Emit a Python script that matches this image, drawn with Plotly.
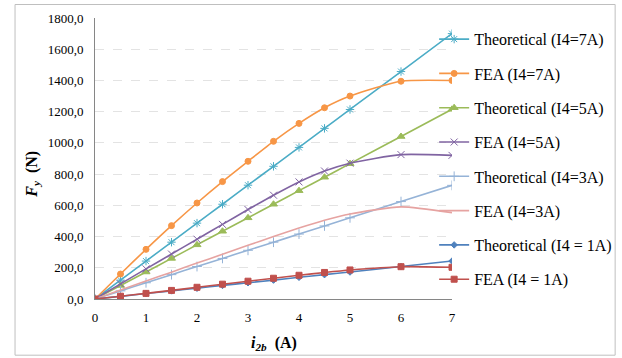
import plotly.graph_objects as go

x = [0, 0.5, 1, 1.5, 2, 2.5, 3, 3.5, 4, 4.5, 5, 6, 7]

theo_7 = [0, 121, 243, 364, 486, 607, 729, 850, 971, 1093, 1214, 1457, 1700]
fea_7 = [0, 160, 318, 470, 615, 752, 882, 1010, 1125, 1225, 1300, 1395, 1400]
theo_5 = [0, 87, 173, 260, 347, 434, 520, 607, 694, 780, 867, 1041, 1215]
fea_5 = [0, 97, 193, 288, 383, 478, 573, 665, 750, 820, 870, 925, 920]
theo_3 = [0, 52, 104, 156, 208, 260, 312, 364, 416, 468, 520, 624, 728]
fea_3 = [0, 58, 115, 172, 230, 287, 344, 400, 455, 505, 545, 590, 553]
theo_1 = [0, 17, 35, 52, 69, 87, 104, 121, 139, 156, 173, 208, 243]
fea_1 = [0, 18, 36, 55, 75, 95, 114, 133, 152, 170, 186, 207, 203]

series = [
    ("Theoretical (I4=7A)", theo_7, "#4BACC6", "asterisk-open", 7),
    ("FEA (I4=7A)", fea_7, "#F79646", "circle", 6),
    ("Theoretical (I4=5A)", theo_5, "#9BBB59", "triangle-up", 7),
    ("FEA (I4=5A)", fea_5, "#8064A2", "x-thin-open", 7),
    ("Theoretical (I4=3A)", theo_3, "#95B3D7", "cross-thin-open", 7),
    ("FEA (I4=3A)", fea_3, "#E6A3A1", None, 0),
    ("Theoretical (I4 = 1A)", theo_1, "#4F81BD", "diamond", 5),
    ("FEA (I4 = 1A)", fea_1, "#C0504D", "square", 6),
]

y_ticks = [0, 200, 400, 600, 800, 1000, 1200, 1400, 1600, 1800]
y_ticktext = ["0,0", "200,0", "400,0", "600,0", "800,0", "1000,0", "1200,0", "1400,0", "1600,0", "1800,0"]
x_ticks = [0, 1, 2, 3, 4, 5, 6, 7]

fig = go.Figure()
for i, (name, ys, color, sym, size) in enumerate(series):
    mode = "lines+markers" if sym else "lines"
    marker = dict(color=color, size=size, symbol=sym, line=dict(color=color, width=1)) if sym else None
    fig.add_trace(go.Scatter(
        x=x, y=ys, name=name, mode=mode, legendgroup=f"g{i}",
        line=dict(color=color, width=1.6, shape="spline", smoothing=0.6),
        marker=marker,
    ))

serif = "Liberation Serif"
fig.update_layout(
    width=622, height=358,
    margin=dict(l=95, r=170, t=18, b=59, autoexpand=False),
    paper_bgcolor="white", plot_bgcolor="white",
    font=dict(family=serif, size=13, color="#000000"),
    showlegend=True,
    legend=dict(x=0.95, y=0.985, xanchor="left", yanchor="top",
                font=dict(family=serif, size=16, color="#000000"),
                tracegroupgap=10.5, bgcolor="rgba(0,0,0,0)", itemwidth=30,
                maxheight=1),
    xaxis=dict(range=[0, 7], tickvals=x_ticks, showgrid=False, zeroline=False,
               showline=True, linecolor="#868686", linewidth=1, ticks="",
               ticklabelstandoff=6,
               tickfont=dict(family=serif, size=13, color="#000")),
    yaxis=dict(range=[0, 1800], tickvals=y_ticks, ticktext=y_ticktext, showgrid=True,
               gridcolor="#E3E3E3", griddash="dash", gridwidth=1, zeroline=False,
               showline=True, linecolor="#868686", linewidth=1, ticks="",
               ticklabelstandoff=8,
               tickfont=dict(family=serif, size=13, color="#000")),
    shapes=[dict(type="rect", xref="paper", yref="paper",
                 x0=-0.224, x1=1.457, y0=-0.2, y1=1.048,
                 line=dict(color="#BFBFBF", width=1), layer="below")],
    annotations=[
        dict(text="<b><i>F</i></b><sub><b><i>y</i></b></sub><b>  (N)</b>", xref="paper", yref="paper",
             x=-0.176, y=0.443, textangle=-90, showarrow=False,
             xanchor="center", yanchor="middle",
             font=dict(family=serif, size=16, color="#000")),
        dict(text="<b><i>i</i></b><sub><b><i>2b</i></b></sub><b>  (A)</b>", xref="paper", yref="paper",
             x=0.5, y=-0.157, showarrow=False, xanchor="center", yanchor="middle",
             font=dict(family=serif, size=16, color="#000")),
    ],
)

fig.write_html("out.html")
